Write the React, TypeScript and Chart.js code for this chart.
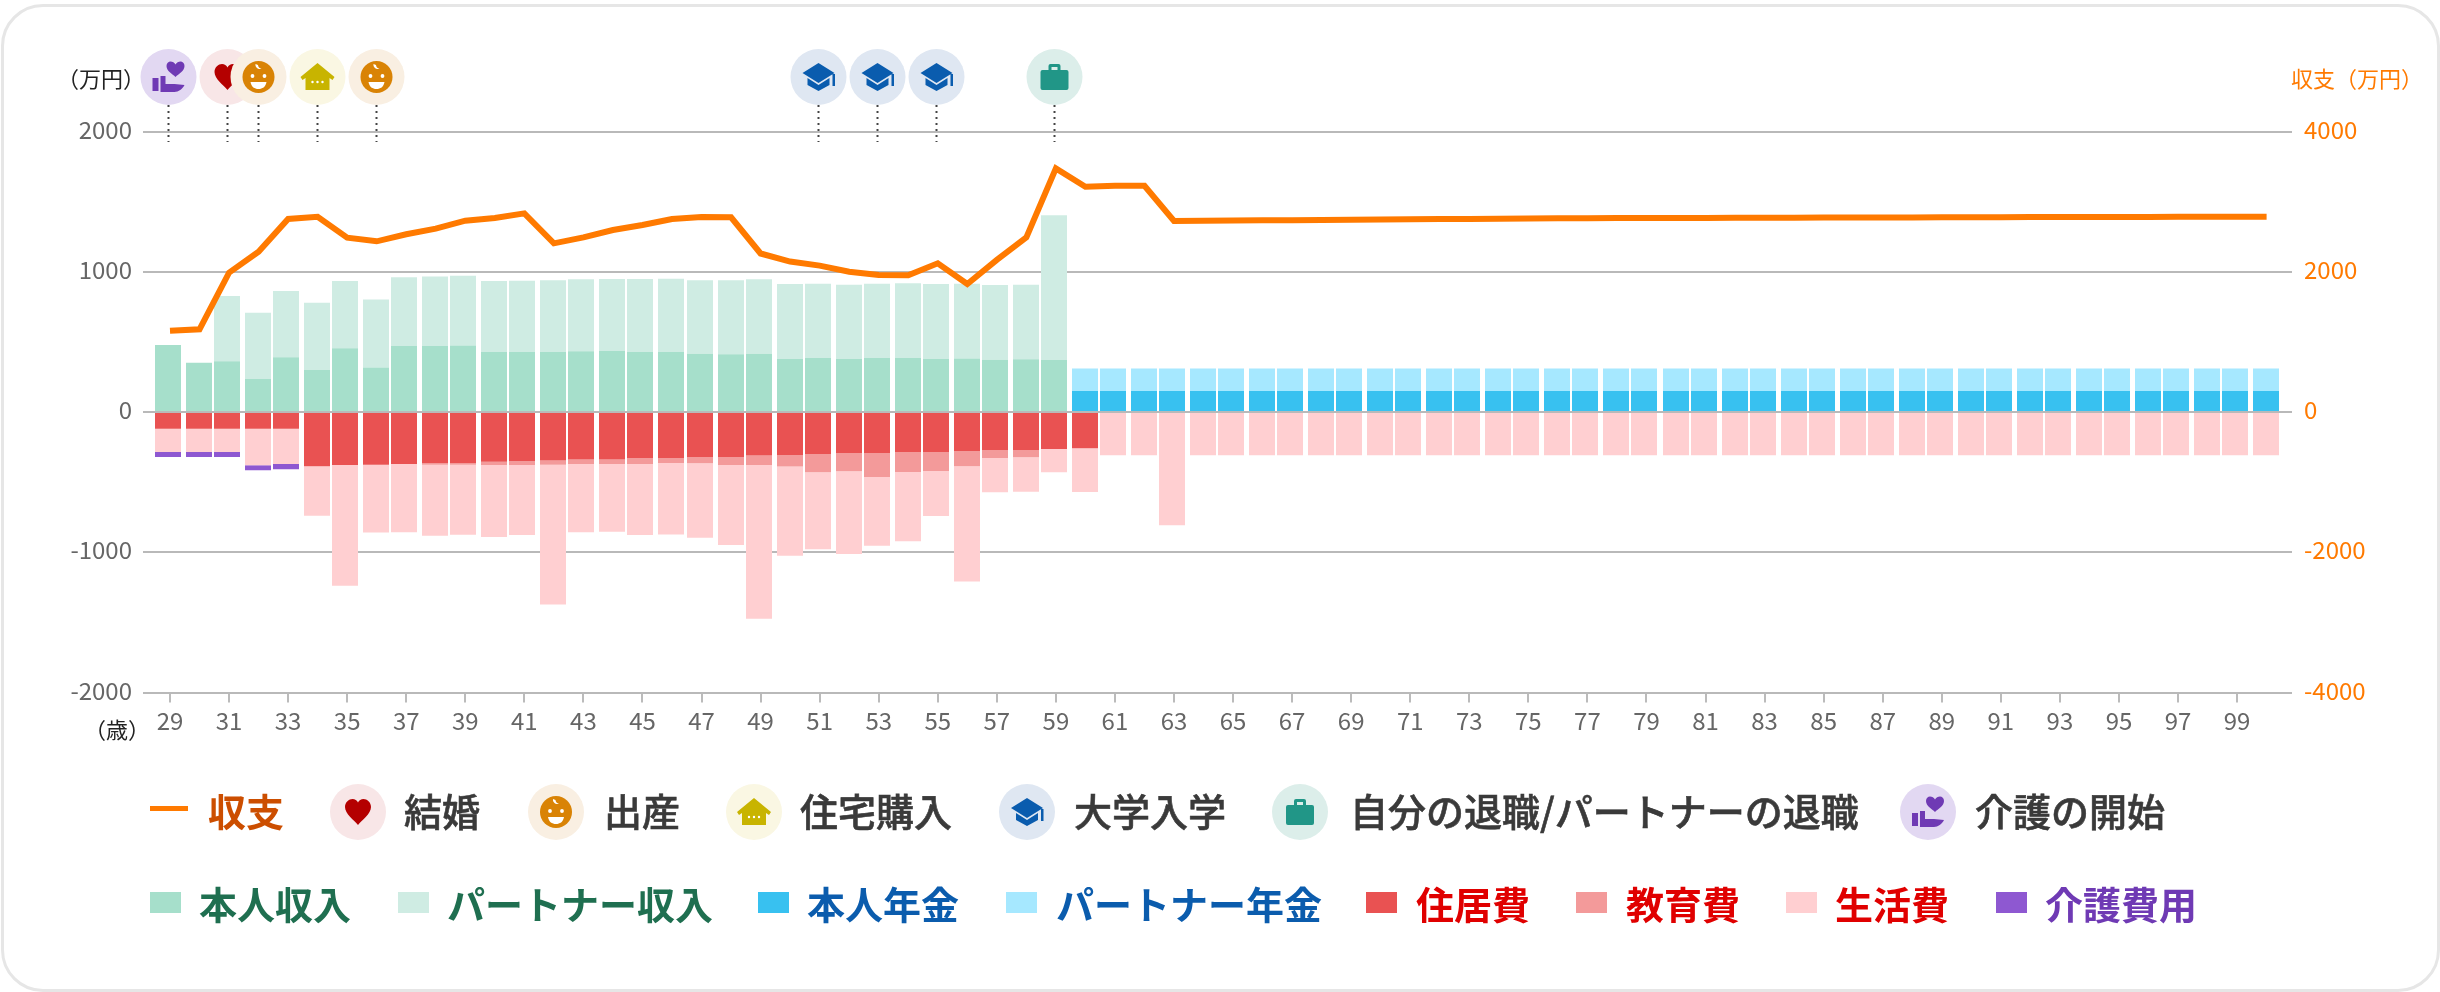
import React, { useEffect, useRef } from "react";
import { Chart, LinearScale, registerables } from "chart.js";

const ages = [
  29, 30, 31, 32, 33, 34, 35, 36, 37, 38, 39, 40, 41, 42, 43, 44, 45, 46, 47, 48,
  49, 50, 51, 52, 53, 54, 55, 56, 57, 58, 59, 60, 61, 62, 63, 64, 65, 66, 67, 68,
  69, 70, 71, 72, 73, 74, 75, 76, 77, 78, 79, 80, 81, 82, 83, 84, 85, 86, 87, 88,
  89, 90, 91, 92, 93, 94, 95, 96, 97, 98, 99, 100,
];
const tickAges = [
  29, 31, 33, 35, 37, 39, 41, 43, 45, 47, 49, 51, 53, 55, 57, 59, 61, 63, 65, 67,
  69, 71, 73, 75, 77, 79, 81, 83, 85, 87, 89, 91, 93, 95, 97, 99,
];
const balance = [
  1159, 1179, 1987, 2286, 2752, 2785, 2486, 2434, 2534, 2614, 2728, 2766, 2833, 2405, 2491, 2595, 2667, 2752, 2781, 2776,
  2260, 2145, 2087, 2001, 1954, 1949, 2120, 1825, 2168, 2491, 3474, 3213, 3227, 3227, 2724, 2727, 2730, 2733, 2736, 2739,
  2742, 2745, 2748, 2751, 2754, 2756, 2759, 2762, 2764, 2765, 2766, 2767, 2768, 2769, 2770, 2771, 2772, 2773, 2774, 2775,
  2776, 2777, 2778, 2779, 2780, 2781, 2781, 2782, 2783, 2783, 2784, 2784,
];
const selfIncome = [
  478, 352, 361, 235, 390, 300, 454, 318, 470, 470, 475, 428, 428, 428, 433, 435, 428, 428, 416, 411,
  416, 378, 385, 378, 385, 385, 378, 381, 373, 376, 370, 0, 0, 0, 0, 0, 0, 0, 0, 0,
  0, 0, 0, 0, 0, 0, 0, 0, 0, 0, 0, 0, 0, 0, 0, 0, 0, 0, 0, 0,
  0, 0, 0, 0, 0, 0, 0, 0, 0, 0, 0, 0,
];
const partnerIncome = [
  0, 0, 466, 473, 473, 479, 480, 485, 490, 497, 497, 506, 508, 511, 513, 513, 520, 522, 523, 528,
  530, 535, 530, 530, 530, 533, 535, 534, 532, 532, 1032, 0, 0, 0, 0, 0, 0, 0, 0, 0,
  0, 0, 0, 0, 0, 0, 0, 0, 0, 0, 0, 0, 0, 0, 0, 0, 0, 0, 0, 0,
  0, 0, 0, 0, 0, 0, 0, 0, 0, 0, 0, 0,
];
const selfPension = [
  0, 0, 0, 0, 0, 0, 0, 0, 0, 0, 0, 0, 0, 0, 0, 0, 0, 0, 0, 0,
  0, 0, 0, 0, 0, 0, 0, 0, 0, 0, 0, 150, 150, 150, 150, 150, 150, 150, 150, 150,
  150, 150, 150, 150, 150, 150, 150, 150, 150, 150, 150, 150, 150, 150, 150, 150, 150, 150, 150, 150,
  150, 150, 150, 150, 150, 150, 150, 150, 150, 150, 150, 150,
];
const partnerPension = [
  0, 0, 0, 0, 0, 0, 0, 0, 0, 0, 0, 0, 0, 0, 0, 0, 0, 0, 0, 0,
  0, 0, 0, 0, 0, 0, 0, 0, 0, 0, 0, 161, 161, 161, 161, 161, 161, 161, 161, 161,
  161, 161, 161, 161, 161, 161, 161, 161, 161, 161, 161, 161, 161, 161, 161, 161, 161, 161, 161, 161,
  161, 161, 161, 161, 161, 161, 161, 161, 161, 161, 161, 161,
];
const housing = [
  -119, -119, -119, -119, -119, -387, -378, -376, -371, -364, -364, -354, -352, -345, -338, -338, -328, -328, -321, -321,
  -311, -307, -302, -295, -295, -285, -285, -278, -273, -271, -264, -259, 0, 0, 0, 0, 0, 0, 0, 0,
  0, 0, 0, 0, 0, 0, 0, 0, 0, 0, 0, 0, 0, 0, 0, 0, 0, 0, 0, 0,
  0, 0, 0, 0, 0, 0, 0, 0, 0, 0, 0, 0,
];
const education = [
  0, 0, 0, 0, 0, 0, 0, 0, 0, -12, -12, -24, -26, -31, -33, -33, -43, -36, -45, -57,
  -67, -81, -128, -128, -169, -143, -135, -109, -55, -52, 0, 0, 0, 0, 0, 0, 0, 0, 0, 0,
  0, 0, 0, 0, 0, 0, 0, 0, 0, 0, 0, 0, 0, 0, 0, 0, 0, 0, 0, 0,
  0, 0, 0, 0, 0, 0, 0, 0, 0, 0, 0, 0,
];
const living = [
  -166, -166, -166, -261, -252, -352, -860, -483, -487, -506, -499, -513, -499, -996, -487, -483, -506, -509, -530, -570,
  -1096, -637, -549, -590, -490, -494, -321, -822, -245, -245, -166, -311, -309, -309, -808, -309, -309, -309, -309, -309,
  -309, -309, -309, -309, -309, -309, -309, -309, -309, -309, -309, -309, -309, -309, -309, -309, -309, -309, -309, -309,
  -309, -309, -309, -309, -309, -309, -309, -309, -309, -309, -309, -309,
];
const careCost = [
  -36, -36, -36, -36, -38, 0, 0, 0, 0, 0, 0, 0, 0, 0, 0, 0, 0, 0, 0, 0,
  0, 0, 0, 0, 0, 0, 0, 0, 0, 0, 0, 0, 0, 0, 0, 0, 0, 0, 0, 0,
  0, 0, 0, 0, 0, 0, 0, 0, 0, 0, 0, 0, 0, 0, 0, 0, 0, 0, 0, 0,
  0, 0, 0, 0, 0, 0, 0, 0, 0, 0, 0, 0,
];

type Layer = { d: string; c: string };
type Icon = { bg: string; layers: Layer[] };
const WHITE = "#ffffff";
const dot = (x: number, y: number, r: number) =>
  `M${x - r} ${y}a${r} ${r} 0 1 0 ${2 * r} 0a${r} ${r} 0 1 0 ${-2 * r} 0Z`;

const heartIcon: Icon = {
  bg: "#f8e6e7",
  layers: [{ c: "#b40000", d: "M0 13C-4 8-13 2-13-5C-13-10-9-13-5.5-13C-3-13-1-11.5 0-9.5C1-11.5 3-13 5.5-13C9-13 13-10 13-5C13 2 4 8 0 13Z" }],
};
const babyIcon: Icon = {
  bg: "#f9efe2",
  layers: [
    { c: "#d98305", d: dot(0, 0, 16) },
    { c: WHITE, d: dot(-6, -1, 1.9) + dot(6, -1, 1.9) + "M-8 5H8C7 10 4 12 0 12C-4 12-7 10-8 5Z" + "M-3-13C-3.5-10-1-7.5 3-8C1-9-.5-10-.5-12Z" },
  ],
};
const houseIcon: Icon = {
  bg: "#faf7e3",
  layers: [
    { c: "#c8b400", d: "M0-14L17 0L15 3L12 1V13H-12V1L-15 3L-17 0Z" },
    { c: WHITE, d: dot(-5, 5, 1.2) + dot(0, 5, 1.2) + dot(5, 5, 1.2) },
  ],
};
const capIcon: Icon = {
  bg: "#dfe7f2",
  layers: [{ c: "#0a5cae", d: "M0-14L16-4L0 6L-16-4ZM-11 1L0 8L11 1V8L0 14L-11 8ZM14-3H16.5V9H14Z" }],
};
const caseIcon: Icon = {
  bg: "#dceeea",
  layers: [{ c: "#219687", d: "M-12-7H12Q14-7 14-5V11Q14 13 12 13H-12Q-14 13-14 11V-5Q-14-7-12-7ZM-6-7V-11Q-6-13-4-13H4Q6-13 6-11V-7H3V-10H-3V-7Z" }],
};
const careIcon: Icon = {
  bg: "#e2d8f2",
  layers: [{ c: "#6f3ab4", d: "M7 0C4-3-2-6-2-11C-2-14 0-15.500 2-15.500C4-15.500 6-14.500 7-12.500C8-14.500 10-15.500 12-15.500C14-15.500 16-14 16-11C16-6 10-3 7 0ZM-16 1H-10V14H-16ZM-8-1H-3V7H6L16 8C14 12 10 15 6 15H-8Z" }],
};

const eventAges = [29, 31, 32, 34, 36, 51, 53, 55, 59];
const eventIcons = [careIcon, heartIcon, babyIcon, houseIcon, babyIcon, capIcon, capIcon, capIcon, caseIcon];

const eventLegend = [
  { label: "結婚", icon: heartIcon, cx: 358, left: 404 },
  { label: "出産", icon: babyIcon, cx: 556, left: 604 },
  { label: "住宅購入", icon: houseIcon, cx: 754, left: 800 },
  { label: "大学入学", icon: capIcon, cx: 1027, left: 1074 },
  { label: "自分の退職/パートナーの退職", icon: caseIcon, cx: 1300, left: 1350 },
  { label: "介護の開始", icon: careIcon, cx: 1928, left: 1975 },
];
const barLegend = [
  { label: "本人収入", color: "#a6dfcb", text: "#1f6f50", x: 150, left: 199 },
  { label: "パートナー収入", color: "#cfece3", text: "#1f6f50", x: 398, left: 447 },
  { label: "本人年金", color: "#38c1f0", text: "#0b5cad", x: 758, left: 807 },
  { label: "パートナー年金", color: "#a6e8ff", text: "#0b5cad", x: 1006, left: 1056 },
  { label: "住居費", color: "#e95252", text: "#e00000", x: 1366, left: 1416 },
  { label: "教育費", color: "#f39a9a", text: "#e00000", x: 1576, left: 1626 },
  { label: "生活費", color: "#ffcfd1", text: "#e00000", x: 1786, left: 1835 },
  { label: "介護費用", color: "#8e58d1", text: "#6f3ab4", x: 1996, left: 2045 },
];

const FONT = '"Noto Sans CJK JP", "Noto Sans", sans-serif';

class BarAgeScale extends LinearScale {
  static id = "barAge";
  static defaults = LinearScale.defaults;
  getPixelForValue(value: number) {
    const base = super.getPixelForValue(value);
    return Math.round(base + (value % 2 ? -2 : -0.5));
  }
}

Chart.register(...registerables, BarAgeScale);

const eventPlugin = {
  id: "events",
  afterDatasetsDraw(chart: any) {
    const { ctx } = chart;
    const scale = chart.scales.xb;
    ctx.save();
    eventAges.forEach((age) => {
      const x = Math.round(scale.getPixelForValue(age)) + 0.5;
      ctx.beginPath();
      ctx.setLineDash([2, 4]);
      ctx.strokeStyle = "#444444";
      ctx.lineWidth = 2;
      ctx.moveTo(x, 105);
      ctx.lineTo(x, 142);
      ctx.stroke();
    });
    ctx.setLineDash([]);
    eventAges.forEach((age, i) => {
      const x = scale.getPixelForValue(age) + 0.5;
      const icon = eventIcons[i];
      ctx.save();
      ctx.translate(x, 77);
      ctx.beginPath();
      ctx.arc(0, 0, 28, 0, Math.PI * 2);
      ctx.fillStyle = icon.bg;
      ctx.fill();
      icon.layers.forEach((l) => {
        ctx.fillStyle = l.c;
        ctx.fill(new Path2D(l.d));
      });
      ctx.restore();
    });
    ctx.restore();
  },
};

function IconSvg({ icon, cx, cy }: { icon: Icon; cx: number; cy: number }) {
  return (
    <svg
      width={56}
      height={56}
      viewBox="-28 -28 56 56"
      style={{ position: "absolute", left: cx - 28, top: cy - 28 }}
    >
      <circle cx={0} cy={0} r={28} fill={icon.bg} />
      {icon.layers.map((l, i) => (
        <path key={i} d={l.d} fill={l.c} />
      ))}
    </svg>
  );
}

const legendText = (left: number, top: number, color: string, weight: number): React.CSSProperties => ({
  position: "absolute",
  left,
  top,
  color,
  fontFamily: FONT,
  fontSize: 38,
  fontWeight: weight,
  lineHeight: "50px",
  whiteSpace: "nowrap",
  ...(weight < 600 ? { WebkitTextStroke: `0.6px ${color}` } : {}),
});

const small = (top: number, color: string): React.CSSProperties => ({
  position: "absolute",
  top,
  color,
  fontFamily: FONT,
  fontSize: 22,
  lineHeight: "30px",
  whiteSpace: "nowrap",
});

export default function App() {
  const ref = useRef<HTMLCanvasElement>(null);
  useEffect(() => {
    document.body.style.margin = "0";
    document.body.style.background = "#ffffff";
    const bar = (label: string, data: number[], color: string) => ({
      type: "bar" as const,
      label,
      data: data.map((y, i) => ({ x: ages[i], y })),
      backgroundColor: color,
      xAxisID: "xb",
      yAxisID: "y",
      stack: "all",
      grouped: false,
      categoryPercentage: 26 / 28,
      barPercentage: 1,
      borderWidth: 0,
      order: 2,
    });
    const xBase = { min: 28.086, max: 100.86, offset: false };
    const chart = new Chart(ref.current as HTMLCanvasElement, {
      type: "bar",
      data: {
        datasets: [
          {
            type: "line",
            label: "収支",
            data: balance.map((y, i) => ({ x: ages[i], y })),
            borderColor: "#ff7a00",
            backgroundColor: "#ff7a00",
            borderWidth: 6,
            borderJoinStyle: "miter",
            pointRadius: 0,
            tension: 0,
            xAxisID: "x",
            yAxisID: "y2",
            order: 1,
          },
          bar("本人収入", selfIncome, "#a6dfcb"),
          bar("パートナー収入", partnerIncome, "#cfece3"),
          bar("本人年金", selfPension, "#38c1f0"),
          bar("パートナー年金", partnerPension, "#a6e8ff"),
          bar("住居費", housing, "#e95252"),
          bar("教育費", education, "#f39a9a"),
          bar("生活費", living, "#ffcfd1"),
          bar("介護費用", careCost, "#8e58d1"),
        ],
      } as any,
      options: {
        responsive: false,
        animation: false,
        devicePixelRatio: 1,
        layout: { padding: { top: 131.5, bottom: 199.5, left: 0, right: 0 } },
        plugins: { legend: { display: false }, tooltip: { enabled: false } },
        scales: {
          x: {
            type: "linear",
            ...xBase,
            position: "bottom",
            grid: { offset: false, drawOnChartArea: false, drawTicks: true, tickLength: 10, color: "#bbbbbb", lineWidth: 2 },
            border: { display: false },
            afterBuildTicks: (s: any) => {
              s.ticks = tickAges.map((value) => ({ value }));
            },
            afterFit: (s: any) => {
              s.height = 100;
            },
            ticks: {
              autoSkip: false,
              maxRotation: 0,
              minRotation: 0,
              padding: 4,
              color: "#666666",
              font: { family: FONT, size: 24 },
              callback: (v: any) => String(v),
            },
          },
          xb: {
            type: "barAge",
            ...xBase,
            stacked: true,
            display: false,
            grid: { offset: false },
            afterBuildTicks: (s: any) => {
              s.ticks = ages.map((value) => ({ value }));
            },
          },
          y: {
            type: "linear",
            position: "left",
            min: -2000,
            max: 2000,
            stacked: true,
            afterFit: (s: any) => {
              s.width = 143;
            },
            grid: { color: "#b9b9b9", lineWidth: 2, drawTicks: false },
            border: { display: false },
            ticks: {
              stepSize: 1000,
              padding: 11,
              labelOffset: -2,
              color: "#666666",
              font: { family: FONT, size: 24 },
              callback: (v: any) => String(v),
            },
          },
          y2: {
            type: "linear",
            position: "right",
            min: -4000,
            max: 4000,
            afterFit: (s: any) => {
              s.width = 148;
            },
            grid: { drawOnChartArea: false, drawTicks: false },
            border: { display: false },
            ticks: {
              stepSize: 2000,
              padding: 12,
              labelOffset: -2,
              color: "#ff7a00",
              font: { family: FONT, size: 24 },
              callback: (v: any) => String(v),
            },
          },
        },
      } as any,
      plugins: [eventPlugin],
    });
    return () => chart.destroy();
  }, []);

  return (
    <div style={{ position: "absolute", left: 0, top: 0, width: 2440, height: 992, overflow: "hidden", background: "#ffffff" }}>
      <div
        style={{
          position: "absolute",
          left: 1,
          top: 4,
          width: 2439,
          height: 988,
          boxSizing: "border-box",
          border: "3px solid #e6e6e6",
          borderRadius: 42,
        }}
      />
      <canvas ref={ref} width={2440} height={992} style={{ position: "absolute", left: 0, top: 0, width: 2440, height: 992 }} />
      <span style={{ ...small(62, "#222222"), left: 57 }}>（万円）</span>
      <span style={{ ...small(713, "#222222"), left: 84 }}>（歳）</span>
      <span style={{ ...small(62, "#ff7a00"), left: 2291 }}>収支（万円）</span>

      <div style={{ position: "absolute", left: 150, top: 806, width: 38, height: 5, background: "#ff7a00" }} />
      <span style={legendText(208, 785, "#cc4e00", 700)}>収支</span>
      {eventLegend.map((e) => (
        <React.Fragment key={e.label}>
          <IconSvg icon={e.icon} cx={e.cx} cy={812} />
          <span style={legendText(e.left, 785, "#3a3a3a", 500)}>{e.label}</span>
        </React.Fragment>
      ))}
      {barLegend.map((b) => (
        <React.Fragment key={b.label}>
          <div style={{ position: "absolute", left: b.x, top: 892, width: 31, height: 21, background: b.color }} />
          <span style={legendText(b.left, 878, b.text, 700)}>{b.label}</span>
        </React.Fragment>
      ))}
    </div>
  );
}
